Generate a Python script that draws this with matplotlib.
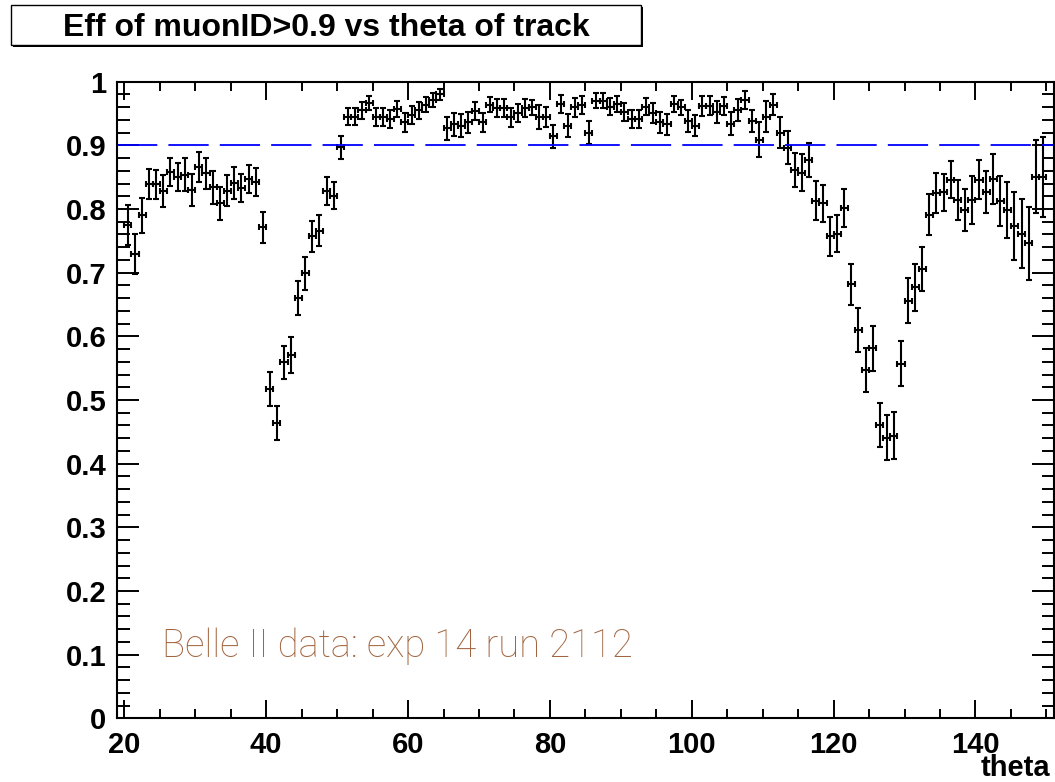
import numpy as np
import matplotlib
matplotlib.use("Agg")
import matplotlib.pyplot as plt
from matplotlib.patches import Rectangle
from matplotlib.ticker import MultipleLocator

# muonID > 0.9 efficiency per 1-degree theta bin (20..150 deg)
theta_edges = np.arange(20, 151, 1)
eff = [
    0.775, 0.729, 0.790, 0.839, 0.839, 0.828, 0.858, 0.850, 0.854, 0.830,
    0.866, 0.856, 0.834, 0.809, 0.829, 0.841, 0.833, 0.847, 0.843, 0.771,
    0.517, 0.464, 0.559, 0.571, 0.660, 0.699, 0.757, 0.766, 0.828, 0.821,
    0.897, 0.945, 0.945, 0.955, 0.966, 0.944, 0.944, 0.941, 0.957, 0.936,
    0.948, 0.955, 0.964, 0.971, 0.980, 0.927, 0.933, 0.931, 0.936, 0.954,
    0.936, 0.964, 0.959, 0.959, 0.944, 0.951, 0.959, 0.960, 0.945, 0.945,
    0.914, 0.965, 0.931, 0.960, 0.964, 0.920, 0.970, 0.970, 0.961, 0.965,
    0.952, 0.941, 0.941, 0.961, 0.951, 0.936, 0.933, 0.965, 0.960, 0.938,
    0.931, 0.962, 0.962, 0.952, 0.962, 0.934, 0.956, 0.971, 0.938, 0.909,
    0.945, 0.964, 0.920, 0.896, 0.861, 0.857, 0.877, 0.813, 0.809, 0.757,
    0.761, 0.802, 0.682, 0.610, 0.547, 0.581, 0.461, 0.441, 0.444, 0.557,
    0.656, 0.677, 0.706, 0.791, 0.825, 0.826, 0.846, 0.814, 0.798, 0.814,
    0.846, 0.826, 0.847, 0.813, 0.798, 0.773, 0.761, 0.746, 0.851, 0.850,
]
eff_err = [
    0.031, 0.031, 0.028, 0.024, 0.023, 0.025, 0.022, 0.022, 0.026, 0.025,
    0.024, 0.024, 0.026, 0.026, 0.024, 0.025, 0.022, 0.022, 0.022, 0.024,
    0.027, 0.027, 0.026, 0.028, 0.027, 0.026, 0.024, 0.024, 0.022, 0.021,
    0.018, 0.013, 0.013, 0.013, 0.011, 0.014, 0.014, 0.014, 0.013, 0.015,
    0.014, 0.013, 0.012, 0.011, 0.008, 0.018, 0.018, 0.018, 0.016, 0.014,
    0.015, 0.012, 0.014, 0.014, 0.015, 0.014, 0.014, 0.012, 0.019, 0.016,
    0.018, 0.014, 0.018, 0.015, 0.014, 0.018, 0.012, 0.012, 0.013, 0.012,
    0.014, 0.014, 0.014, 0.013, 0.016, 0.017, 0.016, 0.013, 0.012, 0.017,
    0.016, 0.016, 0.015, 0.017, 0.014, 0.018, 0.017, 0.014, 0.017, 0.027,
    0.024, 0.016, 0.024, 0.026, 0.027, 0.029, 0.026, 0.031, 0.029, 0.031,
    0.029, 0.030, 0.032, 0.035, 0.034, 0.035, 0.035, 0.035, 0.037, 0.035,
    0.035, 0.037, 0.034, 0.032, 0.031, 0.029, 0.029, 0.032, 0.033, 0.038,
    0.031, 0.033, 0.039, 0.039, 0.044, 0.053, 0.054, 0.057, 0.057, 0.063,
]
cut_value = 0.9
title = "Eff of muonID>0.9 vs theta of track"
label = "Belle II data: exp 14 run 2112"

theta = 0.5 * (theta_edges[:-1] + theta_edges[1:])
half_bin = 0.5 * np.diff(theta_edges)

plt.rcParams["font.family"] = ["Liberation Sans", "DejaVu Sans"]
plt.rcParams["lines.scale_dashes"] = False

W, H = 1055, 782
fig = plt.figure(figsize=(W / 100, H / 100), dpi=100)
ax = fig.add_axes([117.3 / W, 1 - 718.3 / H, 936.2 / W, 636.6 / H])

ax.errorbar(theta, eff, xerr=half_bin, yerr=eff_err, fmt="none",
            ecolor="black", elinewidth=1.5, capsize=2.4, capthick=1.5)
ax.axhline(cut_value, color="#0000ff", lw=1.3, dashes=(29, 8))

ax.set_xlim(19, 151)
ax.set_ylim(0, 1)
ax.xaxis.set_major_locator(MultipleLocator(20))
ax.xaxis.set_minor_locator(MultipleLocator(5))
ax.yaxis.set_major_locator(MultipleLocator(0.1))
ax.yaxis.set_minor_locator(MultipleLocator(0.02))
ax.set_yticks(np.arange(0, 1.01, 0.1))
ax.set_yticklabels(["0", "0.1", "0.2", "0.3", "0.4", "0.5", "0.6", "0.7", "0.8", "0.9", "1"])

ax.tick_params(axis="both", which="both", direction="in", top=True, right=True,
               width=1.4, labelsize=21)
ax.tick_params(axis="x", which="major", length=13, pad=9)
ax.tick_params(axis="x", which="minor", length=6.5)
ax.tick_params(axis="y", which="major", length=16, pad=8)
ax.tick_params(axis="y", which="minor", length=9)
for lab in ax.get_xticklabels() + ax.get_yticklabels():
    lab.set_fontweight("bold")
for sp in ax.spines.values():
    sp.set_linewidth(1.5)

ax.text(0.0477, 0.0963, label, transform=ax.transAxes, fontsize=27.5,
        color="#a2653f", va="baseline", ha="left",
        family=["Roboto", "Liberation Sans"], fontweight="light")

fig.text(1050 / W, 1 - 776 / H, "theta", fontsize=21, fontweight="bold",
         ha="right", va="baseline")

# title pave with a small drop shadow
fig.patches.append(Rectangle((13 / W, 1 - 47 / H), 630 / W, 40 / H,
                             transform=fig.transFigure, facecolor="black",
                             edgecolor="black", lw=0))
fig.patches.append(Rectangle((11 / W, 1 - 45 / H), 630 / W, 40 / H,
                             transform=fig.transFigure, facecolor="white",
                             edgecolor="black", lw=1.0))
fig.text(326 / W, 1 - 28 / H, title, fontsize=23, fontweight="bold",
         ha="center", va="center")

fig.savefig("out.png", dpi=100)
